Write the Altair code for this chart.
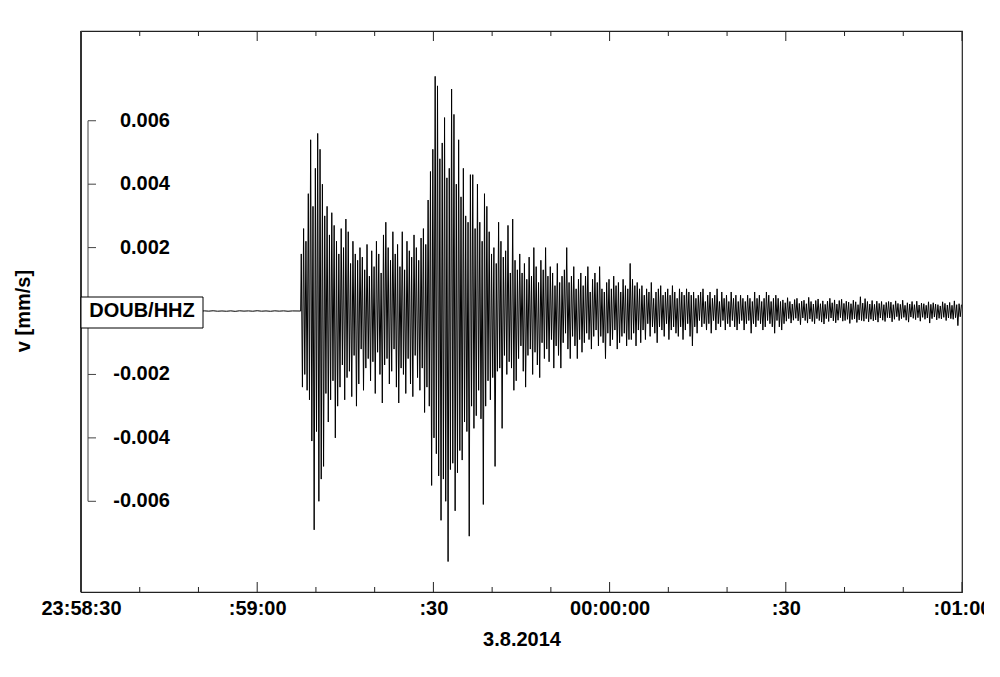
import altair as alt
import pandas as pd

# ---- axis text ----
station = "DOUB/HHZ"
y_title = "v [mm/s]"
x_title = "3.8.2014"
major_seconds = [0, 30, 60, 90, 120, 150]          # seconds after 23:58:30
major_labels = ["23:58:30", ":59:00", ":30", "00:00:00", ":30", ":01:00"]
minor_seconds = [10, 20, 40, 50, 70, 80, 100, 110, 130, 140]
y_tick_values = [0.006, 0.004, 0.002, -0.002, -0.004, -0.006]
y_tick_labels = ["0.006", "0.004", "0.002", "-0.002", "-0.004", "-0.006"]
y_domain = [-0.00886, 0.00883]

# ---- trace samples, in units of 1e-4 mm/s ----
pre_event_dt = 0.75
pre_event = [0.05, -0.08, 0.03, -0.1, 0.06, -0.04, 0.08, -0.06, 0.02, -0.09,
             0.07, -0.03, 0.05, -0.1, 0.04, -0.06, 0.09, -0.02, 0.06, -0.08,
             0.03, -0.05, 0.1, -0.07, 0.04, -0.03, 0.06, -0.09, 0.05, -0.04,
             0.08, -0.06, 0.02, -0.07, 0.05, -0.1, 0.07, -0.03, 0.04, -0.06,
             0.09, -0.05, 0.03, -0.08, 0.06, -0.04, 0.05, -0.07, 0.03, 0.0]
onset = 37.5
event_dt = 0.2
p_phase = [
    18, -24, 26, -20, 22, -25, 37, -28, 54, -41,
    33, -69, 45, -38, 56, -60, 51, -53, 40, -49,
    30, -26, 33, -35, 24, -28, 31, -22, 27, -40,
    22, -30, 18, -24, 26, -17, 20, -28, 29, -21,
    25, -19, 15, -27, 22, -14, 18, -30, 16, -23,
    20, -12, 17, -25, 13, -18, 21, -15, 11, -22,
    19, -16, 14, -26, 22, -13, 18, -20, 12, -29,
    24, -17, 28, -15, 20, -23, 16, -19, 25, -12,
    18, -24, 21, -29, 14, -18, 25, -20, 13, -26,
    22, -15, 19, -23, 17, -27, 24, -14, 20, -21,
    16, -25, 23, -18, 26, -32, 21, -24, 35, -30,
]
s_phase = [
    44, -55, 51, -40, 74, -45, 71, -52, 48, -66,
    53, -53, 61, -60, 42, -79, 45, -50, 70, -48,
    62, -63, 40, -51, 54, -44, 36, -47, 45, -35,
    30, -38, 28, -71, 43, -30, 43, -37, 26, -33,
    40, -25, 28, -34, 22, -61, 37, -30, 33, -22,
    25, -28, 18, -21, 20, -49, 15, -19, 28, -18,
    22, -37, 17, -14, 19, -20, 27, -16, 12, -18,
    29, -25, 16, -22, 13, -15, 18, -11, 12, -19,
]
coda = [
    15, -24, 10, -14, 17, -12, 11, -20, 20, -13,
    14, -17, 9, -21, 16, -10, 13, -15, 20, -12,
    11, -16, 14, -9, 12, -18, 8, -11, 15, -14,
    9, -18, 11, -10, 13, -7, 20, -12, 9, -15,
    11, -8, 14, -11, 7, -15, 10, -9, 12, -13,
    8, -10, 11, -7, 14, -9, 6, -12, 10, -8,
    12, -6, 9, -11, 14, -8, 7, -10, 6, -15,
    9, -7, 10, -11, 7, -9, 11, -6, 8, -12,
    9, -10, 6, -8, 10, -7, 8, -11, 7, -9,
    15, -9, 10, -7, 8, -11, 9, -6, 7, -10,
    8, -6, 5, -9, 7, -4, 6, -8, 9, -5,
    4, -7, 6, -10, 7, -5, 8, -6, 5, -8,
    6, -4, 7, -9, 5, -6, 8, -5, 6, -7,
    4, -8, 7, -5, 6, -9, 5, -6, 7, -4,
    6, -8, 5, -11, 6, -5, 4, -7, 5, -3,
    6, -5, 7, -4, 3, -6, 5, -4, 6, -7,
    4, -3, 5, -6, 7, -4, 3, -5, 6, -3,
    4, -6, 5, -4, 3, -5, 6, -3, 4, -5,
    5, -6, 3, -4, 5, -3, 4, -6, 3, -4,
    5, -3, 4, -7, 3, -4, 6, -5, 4, -3,
    5, -4, 3, -6, 4, -5, 6, -3, 5, -4,
    3, -5, 4, -7, 5, -3, 4, -5, 3, -6,
    3.5, -4.0, 2.6, -3.2, 4.2, -2.4, 3.0, -3.8, 2.2, -2.9,
    3.6, -2.3, 4.0, -3.1, 2.4, -4.3, 3.1, -2.2, 3.4, -3.0,
    2.3, -3.8, 4.3, -2.5, 3.0, -3.3, 2.2, -4.0, 3.3, -2.4,
    3.8, -3.0, 2.3, -3.5, 3.2, -4.1, 2.1, -2.4, 3.1, -3.3,
    4.0, -2.2, 2.6, -3.1, 3.5, -3.7, 2.2, -2.9, 3.3, -2.1,
    3.7, -3.2, 2.4, -3.0, 3.1, -2.6, 2.8, -3.9, 2.3, -2.7,
    3.4, -2.5, 2.9, -3.6, 2.0, -2.8, 4.5, -3.0, 2.5, -3.2,
    3.9, -2.4, 3.0, -3.4, 2.2, -2.6, 3.3, -3.1, 2.1, -2.8,
    3.1, -3.5, 2.4, -2.2, 3.0, -2.9, 2.0, -3.3, 2.7, -2.1,
    3.0, -2.2, 2.8, -3.4, 2.0, -2.6, 3.2, -1.8, 2.4, -3.0,
    2.1, -2.4, 3.4, -2.0, 1.8, -2.9, 2.6, -3.5, 2.2, -1.9,
    3.0, -2.3, 2.0, -2.7, 3.1, -2.1, 1.9, -3.2, 2.5, -2.0,
    2.3, -2.6, 1.8, -2.2, 2.9, -3.8, 2.1, -2.4, 2.6, -1.9,
    2.2, -2.8, 2.0, -2.3, 1.6, -2.5, 2.9, -2.0, 2.4, -3.0,
    1.9, -2.2, 2.7, -2.4, 1.8, -2.6, 3.2, -2.1, 2.0, -4.6,
    2.3, -1.8, 2.0,
]

UNIT = 1e-4
event = p_phase + s_phase + coda
rows = [{"t": i * pre_event_dt, "v": v * UNIT} for i, v in enumerate(pre_event[:-1])]
rows.append({"t": onset - 0.1, "v": pre_event[-1] * UNIT})
rows += [{"t": onset + i * event_dt, "v": v * UNIT} for i, v in enumerate(event)]
trace = pd.DataFrame(rows)

FONT = "Liberation Sans"
W, H = 881, 561

label_expr = " : ".join(
    f"datum.value == {s} ? '{l}'" for s, l in zip(major_seconds, major_labels)
) + " : ''"

xscale = alt.Scale(domain=[0, 150], nice=False, zero=False)
yscale = alt.Scale(domain=y_domain, nice=False, zero=False)

line = alt.Chart(trace).mark_line(color="black", strokeWidth=1.0, clip=True).encode(
    x=alt.X("t:Q", scale=xscale,
            axis=alt.Axis(values=major_seconds, labelExpr=label_expr, ticks=False, domain=False,
                          grid=False, labelFontSize=20, labelFontWeight="bold", labelFont=FONT,
                          labelColor="black", labelPadding=6, labelFlush=False, labelOverlap=False,
                          title=x_title, titleFont=FONT, titleFontSize=20, titleFontWeight="bold",
                          titleColor="black", titlePadding=11)),
    y=alt.Y("v:Q", scale=yscale, axis=None),
)

major_df = pd.DataFrame({"t": major_seconds})
minor_df = pd.DataFrame({"t": minor_seconds})

def ticks(df, length):
    bottom = alt.Chart(df).mark_rule(color="#222", strokeWidth=1).encode(
        x=alt.X("t:Q", scale=xscale), y=alt.value(H), y2=alt.value(H - length))
    top = alt.Chart(df).mark_rule(color="#222", strokeWidth=1).encode(
        x=alt.X("t:Q", scale=xscale), y=alt.value(0), y2=alt.value(length))
    return bottom + top

yt = pd.DataFrame({"v": y_tick_values, "label": y_tick_labels})

bracket = alt.Chart(pd.DataFrame({"a": [0]})).mark_rule(color="#444", strokeWidth=1).encode(
    x=alt.value(7), y=alt.datum(y_tick_values[0], scale=yscale), y2=alt.datum(y_tick_values[-1]))
yticks = alt.Chart(yt).mark_rule(color="#444", strokeWidth=1).encode(
    x=alt.value(7), x2=alt.value(15), y=alt.Y("v:Q", scale=yscale))
ylabels = alt.Chart(yt).mark_text(align="right", baseline="middle", font=FONT, fontSize=20,
                                  fontWeight="bold", color="black").encode(
    x=alt.value(89), y=alt.Y("v:Q", scale=yscale), text="label:N")

left_edge = alt.Chart(pd.DataFrame({"a": [0]})).mark_rule(color="#333", strokeWidth=2).encode(
    x=alt.value(0), y=alt.value(0), y2=alt.value(H))

box = alt.Chart(pd.DataFrame({"a": [0]})).mark_rect(fill="white", stroke="black", strokeWidth=1).encode(
    x=alt.value(0), x2=alt.value(122), y=alt.value(266), y2=alt.value(297))
box_text = alt.Chart(pd.DataFrame({"s": [station]})).mark_text(
    align="center", baseline="middle", font=FONT, fontSize=20, fontWeight="bold", color="black").encode(
    x=alt.value(61), y=alt.datum(0, scale=yscale), text="s:N")

ytitle = alt.Chart(pd.DataFrame({"s": [y_title]})).mark_text(
    align="center", baseline="middle", angle=270, font=FONT, fontSize=20, fontWeight="bold",
    color="black").encode(x=alt.value(-57), y=alt.datum(0, scale=yscale), text="s:N")

chart = alt.layer(
    line, ticks(major_df, 10), ticks(minor_df, 5), left_edge, bracket, yticks, ylabels,
    box, box_text, ytitle
).properties(
    width=W, height=H,
    padding={"left": 73, "top": 23, "right": 22, "bottom": 77},
    autosize=alt.AutoSizeParams(type="none"),
    background="white",
).configure_view(stroke="#222", strokeWidth=1.2)

chart.save("out.html", embed_options={"renderer": "svg", "actions": False})
